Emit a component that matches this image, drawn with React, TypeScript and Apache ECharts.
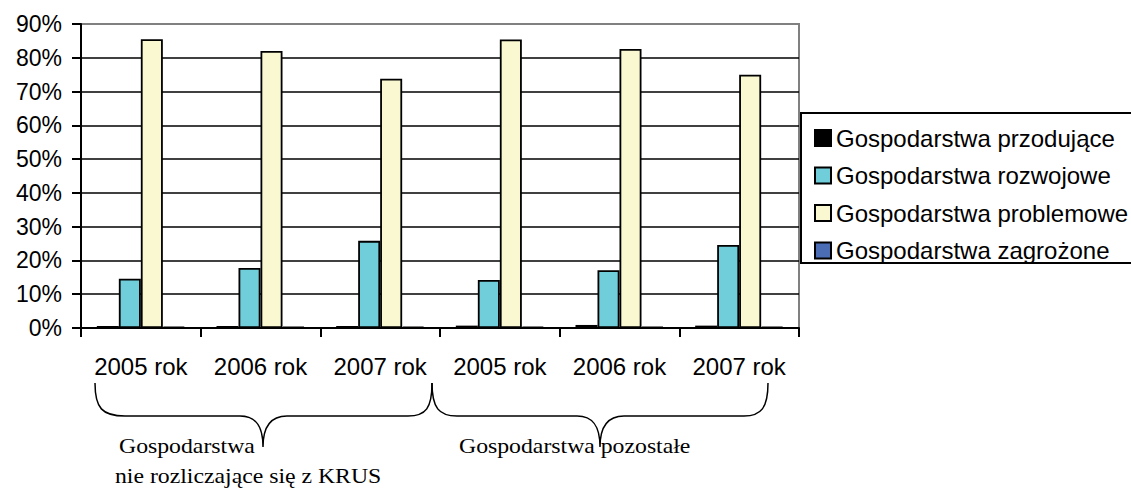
import React, { useEffect, useRef } from "react";
import * as echarts from "echarts";

const categories = ["2005 rok", "2006 rok", "2007 rok", "2005 rok", "2006 rok", "2007 rok"];
const seriesNames = [
  "Gospodarstwa przodujące",
  "Gospodarstwa rozwojowe",
  "Gospodarstwa problemowe",
  "Gospodarstwa zagrożone",
];
const przodujace = [0.6, 0.6, 0.6, 0.7, 0.9, 0.7];
const rozwojowe = [14.6, 17.8, 25.8, 14.2, 17.1, 24.6];
const problemowe = [85.5, 82.0, 73.8, 85.4, 82.6, 75.0];
const zagrozone = [0.3, 0.3, 0.3, 0.3, 0.3, 0.3];
const seriesColors = ["#000000", "#70CDDA", "#FAF8D0", "#4A6DB5"];
const groupLabels = ["Gospodarstwa", "nie rozliczające się z KRUS", "Gospodarstwa pozostałe"];

const braceLeft =
  "M95 383 C95 408 102 416 125 416 L240 416 C256 416 263 426 263 447 C263 426 271 416 287 416 L408 416 C426 416 432 408 432 383";
const braceRight =
  "M432 383 C432 408 439 416 457 416 L577 416 C593 416 600 426 600 447 C600 426 608 416 624 416 L744 416 C761 416 768 408 768 383";

echarts.graphic.registerShape("braceL", echarts.graphic.extendPath(braceLeft, {}));
echarts.graphic.registerShape("braceR", echarts.graphic.extendPath(braceRight, {}));

export default function App() {
  const ref = useRef<HTMLDivElement>(null);
  useEffect(() => {
    if (!ref.current) return;
    const chart = echarts.init(ref.current, null, { renderer: "svg" });
    const allData = [przodujace, rozwojowe, problemowe, zagrozone];
    const sans = "Liberation Sans";
    const serif = "Liberation Serif";
    chart.setOption({
      animation: false,
      backgroundColor: "#ffffff",
      grid: {
        left: 81,
        right: 332,
        top: 24,
        bottom: 160,
        show: true,
        borderColor: "#808080",
        borderWidth: 2,
        backgroundColor: "transparent",
      },
      legend: {
        orient: "vertical",
        left: 809,
        top: 121,
        itemWidth: 16,
        itemHeight: 16,
        itemGap: 13.5,
        icon: "rect",
        data: seriesNames,
        textStyle: { fontFamily: sans, fontSize: 24, color: "#000" },
        z: 10,
      },
      xAxis: {
        type: "category",
        data: categories,
        axisLine: { show: true, lineStyle: { color: "#000", width: 2 } },
        axisTick: { show: true, length: 9, lineStyle: { color: "#000", width: 2 } },
        axisLabel: {
          fontFamily: sans,
          fontSize: 24,
          color: "#000",
          margin: 26,
          interval: 0,
        },
        splitLine: { show: false },
      },
      yAxis: {
        type: "value",
        min: 0,
        max: 90,
        interval: 10,
        axisLine: { show: true, lineStyle: { color: "#000", width: 2 } },
        axisTick: { show: true, length: 9, lineStyle: { color: "#000", width: 2 } },
        axisLabel: {
          fontFamily: sans,
          fontSize: 23,
          color: "#000",
          margin: 19,
          formatter: "{value}%",
        },
        splitLine: {
          show: true,
          showMaxLine: false,
          lineStyle: { color: "#000", width: 1.5 },
        },
      },
      series: seriesNames.map((name, i) => ({
        name,
        type: "bar",
        data: allData[i],
        barWidth: 22,
        barGap: "0%",
        itemStyle: { color: seriesColors[i], borderColor: "#000", borderWidth: 1.8 },
      })),
      graphic: [
        {
          type: "rect",
          shape: { x: 801, y: 113, width: 400, height: 150 },
          style: { fill: "#fff", stroke: "#000", lineWidth: 2 },
          z: 1,
        },
        {
          type: "braceL",
          x: 0,
          y: 0,
          style: { fill: null, stroke: "#000", lineWidth: 1.5 },
        },
        {
          type: "braceR",
          x: 0,
          y: 0,
          style: { fill: null, stroke: "#000", lineWidth: 1.5 },
        },
        {
          type: "text",
          x: 119,
          y: 446,
          scaleX: 1.08,
          style: {
            text: groupLabels[0],
            fontFamily: serif,
            fontSize: 22,
            fill: "#000",
            verticalAlign: "middle",
          },
        },
        {
          type: "text",
          x: 115,
          y: 476,
          scaleX: 1.08,
          style: {
            text: groupLabels[1],
            fontFamily: serif,
            fontSize: 22,
            fill: "#000",
            verticalAlign: "middle",
          },
        },
        {
          type: "text",
          x: 459,
          y: 446,
          scaleX: 1.08,
          style: {
            text: groupLabels[2],
            fontFamily: serif,
            fontSize: 22,
            fill: "#000",
            verticalAlign: "middle",
          },
        },
      ],
    });
    return () => chart.dispose();
  }, []);
  return (
    <div
      ref={ref}
      style={{ position: "absolute", left: 0, top: 0, width: 1131, height: 488, background: "#fff" }}
    />
  );
}
